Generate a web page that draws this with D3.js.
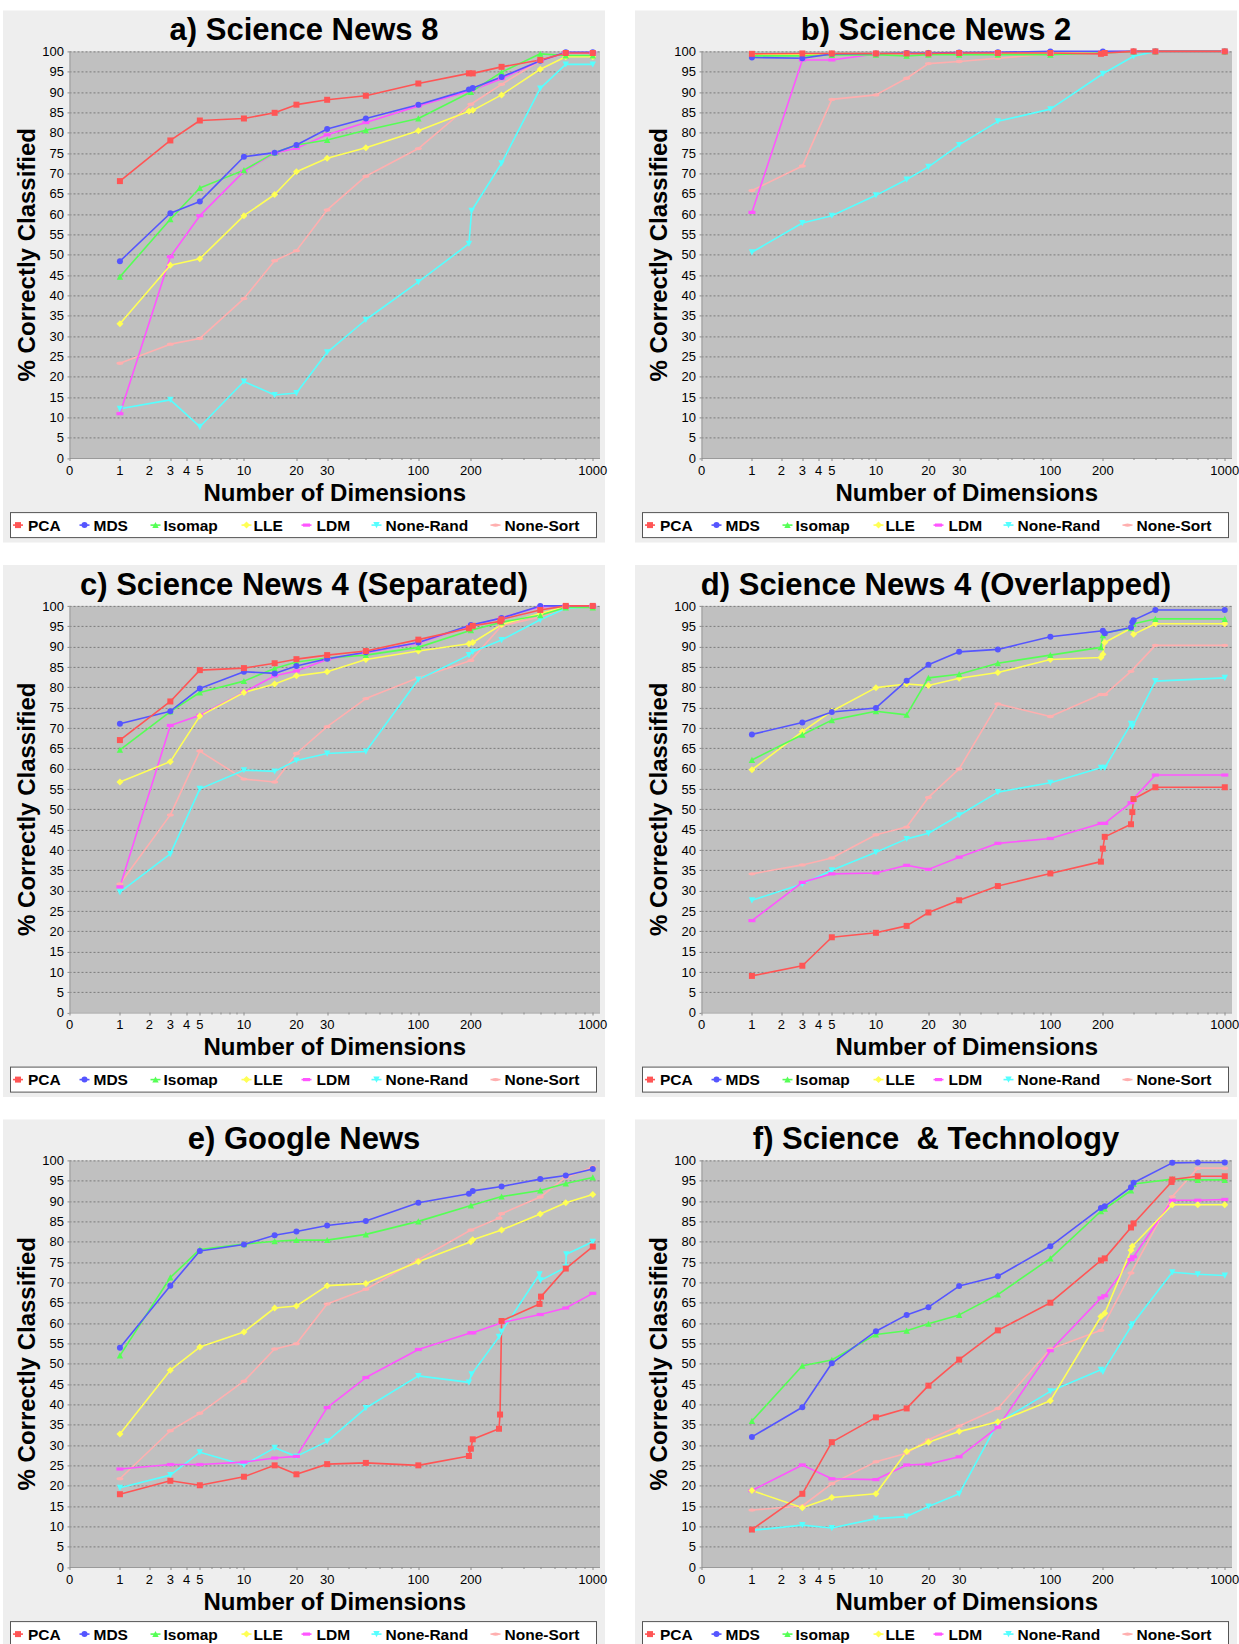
<!DOCTYPE html>
<html>
<head>
<meta charset="utf-8">
<script src="https://cdn.jsdelivr.net/npm/d3@7"></script>
<style>
  body { margin: 0; background: #ffffff; }
  svg text { font-family: "Liberation Sans", Arial, sans-serif; fill: #000; }
</style>
</head>
<body>
<svg id="chart" width="1239" height="1644"></svg>
<script>
// ---- series definitions -------------------------------------------------
const methods = ["PCA", "MDS", "Isomap", "LLE", "LDM", "None-Rand", "None-Sort"];
const methodColors = ["#ff5555", "#5555ff", "#55ff55", "#ffff55", "#ff55ff", "#55ffff", "#ffafaf"];
const methodShapes = ["square", "circle", "triUp", "diamond", "hRect", "triDown", "hEllipse"];

// ---- axis ticks ---------------------------------------------------------
const yTicks = d3.range(0, 101, 5);
const xTickLabels = [0, 1, 2, 3, 4, 5, 10, 20, 30, 100, 200, 1000];
const xMinorTicks = [6, 7, 8, 9, 40, 50, 60, 70, 80, 90, 300, 400, 500, 600, 700, 800, 900];

const panelTitles = [
  "a) Science News 8",
  "b) Science News 2",
  "c) Science News 4 (Separated)",
  "d) Science News 4 (Overlapped)",
  "e) Google News",
  "f) Science  & Technology"
];

// ---- a) Science News 8: [dimensions, % correctly classified] ------------
const sn8PCA = [[1,68.1],[3,78.1],[5,83.0],[10,83.5],[15,84.9],[20,86.9],[30,88.1],[50,89.1],[100,92.1],[195,94.6],[205,94.6],[300,96.2],[500,97.9],[700,99.6],[1000,99.6]];
const sn8MDS = [[1,48.4],[3,60.2],[5,63.1],[10,74.1],[15,75.1],[20,77.0],[30,80.9],[50,83.5],[100,86.9],[195,90.6],[205,91.0],[300,93.7],[500,97.7],[700,99.8],[1000,99.8]];
const sn8Isomap = [[1,44.6],[3,58.7],[5,66.4],[10,70.8],[15,75.1],[20,77.0],[30,78.2],[50,80.6],[100,83.5],[200,90.0],[300,94.9],[500,99.4],[700,99.0],[1000,99.0]];
const sn8LLE = [[1,33.0],[3,47.4],[5,49.0],[10,59.6],[15,64.8],[20,70.4],[30,73.7],[50,76.3],[100,80.5],[195,85.3],[205,85.5],[300,89.3],[500,95.6],[700,98.7],[1000,98.7]];
const sn8LDM = [[1,10.9],[3,49.5],[5,59.6],[10,70.5],[15,75.0],[20,76.2],[30,79.5],[50,82.5],[100,86.6],[200,90.4],[300,93.3],[500,97.7],[700,99.7],[1000,99.7]];
const sn8NoneRand = [[1,12.1],[3,14.3],[5,7.7],[10,18.8],[15,15.5],[20,16.0],[30,26.0],[50,34.0],[100,43.3],[195,52.7],[202,60.8],[300,72.5],[500,90.9],[700,96.8],[1000,96.8]];
const sn8NoneSort = [[1,23.3],[3,28.0],[5,29.4],[10,39.2],[15,48.5],[20,51.0],[30,61.0],[50,69.3],[100,76.1],[200,87.0],[300,91.9],[500,97.7],[700,99.7],[1000,99.7]];

// ---- b) Science News 2 ----------------------------------------------------
const sn2PCA = [[1,99.4],[3,99.5],[5,99.5],[10,99.5],[15,99.5],[20,99.5],[30,99.6],[50,99.6],[100,99.6],[195,99.4],[205,99.6],[300,100],[400,100],[1000,100]];
const sn2MDS = [[1,98.5],[3,98.3],[5,99.4],[10,99.5],[15,99.6],[20,99.6],[30,99.7],[50,99.8],[100,100],[200,100],[300,100],[400,100],[1000,100]];
const sn2Isomap = [[1,98.9],[3,98.9],[5,99.1],[10,99.2],[15,98.9],[20,99.2],[30,99.2],[50,99.2],[100,99.2],[200,99.6],[300,100],[400,100],[1000,100]];
const sn2LLE = [[1,99.2],[3,99.2],[5,99.4],[10,99.5],[15,99.5],[20,99.6],[30,99.6],[50,99.6],[100,99.7],[200,99.8],[300,100],[400,100],[1000,100]];
const sn2LDM = [[1,60.4],[3,97.9],[5,97.9],[10,99.4],[15,99.4],[20,99.4],[30,99.6],[50,99.7],[100,99.8],[200,99.9],[300,100],[400,100],[1000,100]];
const sn2NoneRand = [[1,50.6],[3,57.8],[5,59.6],[10,64.6],[15,68.5],[20,71.6],[30,77.0],[50,82.8],[100,85.8],[200,94.5],[300,98.8],[400,100],[1000,100]];
const sn2NoneSort = [[1,65.8],[3,71.8],[5,88.2],[10,89.3],[15,93.4],[20,97.0],[30,97.5],[50,98.3],[100,99.4],[200,99.8],[300,100],[400,100],[1000,100]];

// ---- c) Science News 4 (Separated) --------------------------------------
const sn4sPCA = [[1,67.0],[3,76.5],[5,84.2],[10,84.7],[15,85.9],[20,86.9],[30,87.9],[50,88.9],[100,91.7],[195,94.5],[205,95.1],[295,96.2],[300,96.7],[500,99.0],[700,100],[1000,100]];
const sn4sMDS = [[1,71.0],[3,74.1],[5,79.7],[10,83.8],[15,83.4],[20,85.2],[30,87.0],[50,88.6],[100,91.0],[200,95.3],[300,97.0],[500,100],[700,100],[1000,100]];
const sn4sIsomap = [[1,64.6],[3,74.0],[5,78.7],[10,81.5],[15,84.6],[20,86.2],[30,87.2],[50,87.9],[100,89.8],[200,94.0],[300,96.0],[500,97.7],[700,99.6],[1000,99.6]];
const sn4sLLE = [[1,56.7],[3,61.7],[5,72.9],[10,78.7],[15,80.8],[20,82.8],[30,83.8],[50,86.8],[100,88.9],[195,90.7],[205,91.0],[300,95.4],[500,98.1],[700,99.8],[1000,99.8]];
const sn4sLDM = [[1,30.9],[3,70.6],[5,73.1],[10,78.8],[15,82.8],[20,84.0],[30,86.8],[50,88.5],[100,90.9],[200,95.1],[300,97.1],[500,99.8],[700,100],[1000,100]];
const sn4sNoneRand = [[1,29.6],[3,39.0],[5,55.0],[10,59.6],[15,59.3],[20,62.0],[30,63.7],[50,64.2],[100,81.9],[195,87.9],[205,88.7],[300,91.6],[500,96.6],[700,99.4],[1000,99.8]];
const sn4sNoneSort = [[1,31.6],[3,48.6],[5,64.3],[10,57.4],[15,56.7],[20,63.7],[30,70.3],[50,77.2],[100,82.3],[200,86.6],[300,95.1],[500,97.3],[700,99.4],[1000,100]];

// ---- d) Science News 4 (Overlapped) -------------------------------------
const sn4oPCA = [[1,9.0],[3,11.5],[5,18.5],[10,19.6],[15,21.3],[20,24.6],[30,27.6],[50,31.1],[100,34.2],[195,37.1],[200,40.3],[205,43.2],[290,46.3],[295,49.3],[300,52.5],[400,55.4],[1000,55.4]];
const sn4oMDS = [[1,68.4],[3,71.3],[5,73.9],[10,74.9],[15,81.6],[20,85.5],[30,88.7],[50,89.3],[100,92.4],[200,93.9],[205,93.3],[290,94.7],[295,96.0],[300,96.5],[400,99.0],[1000,99.0]];
const sn4oIsomap = [[1,62.1],[3,68.3],[5,71.9],[10,74.1],[15,73.2],[20,82.3],[30,83.2],[50,85.9],[100,87.9],[195,89.8],[200,92.8],[205,93.4],[290,94.5],[300,95.6],[400,96.8],[1000,96.8]];
const sn4oLLE = [[1,59.7],[3,69.1],[5,74.1],[10,79.9],[15,80.8],[20,80.4],[30,82.2],[50,83.6],[100,86.8],[195,87.3],[200,88.1],[205,91.0],[290,94.5],[300,93.0],[400,95.6],[1000,95.6]];
const sn4oLDM = [[1,22.6],[3,32.0],[5,34.1],[10,34.3],[15,36.2],[20,35.2],[30,38.2],[50,41.6],[100,42.8],[195,46.5],[205,46.5],[290,51.6],[300,52.6],[400,58.4],[1000,58.4]];
const sn4oNoneRand = [[1,27.6],[3,31.6],[5,35.0],[10,39.4],[15,42.7],[20,44.1],[30,48.5],[50,54.2],[100,56.5],[195,60.2],[205,60.2],[290,71.0],[295,70.2],[400,81.5],[1000,82.3]];
const sn4oNoneSort = [[1,34.1],[3,36.3],[5,38.0],[10,43.7],[15,45.6],[20,52.9],[30,59.9],[50,75.9],[100,72.8],[195,78.2],[205,78.2],[290,83.9],[400,90.3],[1000,90.3]];

// ---- e) Google News -------------------------------------------------------
const gnPCA = [[1,17.9],[3,21.2],[5,20.1],[10,22.2],[15,25.0],[20,22.8],[30,25.3],[50,25.6],[100,25.0],[195,27.3],[200,29.1],[205,31.4],[290,34.0],[294,37.5],[300,60.5],[495,64.7],[505,66.5],[700,73.4],[1000,78.8]];
const gnMDS = [[1,53.9],[3,69.2],[5,77.7],[10,79.3],[15,81.6],[20,82.5],[30,84.0],[50,85.1],[100,89.6],[195,91.8],[205,92.5],[300,93.6],[500,95.4],[700,96.3],[1000,97.9]];
const gnIsomap = [[1,52.0],[3,71.2],[5,78.1],[10,79.4],[15,80.1],[20,80.4],[30,80.4],[50,81.8],[100,85.0],[200,88.9],[300,91.1],[500,92.6],[700,94.3],[1000,95.8]];
const gnLLE = [[1,32.7],[3,48.4],[5,54.1],[10,57.8],[15,63.7],[20,64.2],[30,69.2],[50,69.7],[100,75.1],[200,80.0],[205,80.5],[300,82.9],[500,86.8],[700,89.6],[1000,91.6]];
const gnLDM = [[1,24.1],[3,25.2],[5,25.2],[10,25.8],[15,26.8],[20,27.2],[30,39.2],[50,46.6],[100,53.5],[200,57.6],[205,57.6],[300,60.1],[500,62.1],[700,63.7],[1000,67.3]];
const gnNoneRand = [[1,19.5],[3,22.6],[5,28.2],[10,25.1],[15,29.3],[20,27.2],[30,30.9],[50,39.1],[100,47.0],[195,45.4],[202,47.4],[290,56.6],[300,57.9],[495,72.0],[502,70.5],[700,73.7],[705,76.9],[1000,80.0]];
const gnNoneSort = [[1,21.7],[3,33.5],[5,37.8],[10,45.7],[15,53.6],[20,54.9],[30,64.7],[50,68.3],[100,75.6],[200,82.9],[290,85.8],[300,86.9],[500,91.0],[700,95.8],[1000,98.4]];

// ---- f) Science & Technology ----------------------------------------------
const stPCA = [[1,9.2],[3,18.0],[5,30.7],[10,36.8],[15,39.0],[20,44.6],[30,51.0],[50,58.2],[100,65.0],[195,75.4],[205,75.9],[290,83.5],[300,84.5],[495,94.7],[500,95.3],[700,96.1],[1000,96.1]];
const stMDS = [[1,32.0],[3,39.3],[5,50.1],[10,58.0],[15,62.0],[20,63.9],[30,69.1],[50,71.5],[100,78.9],[195,88.3],[205,88.7],[290,93.4],[300,94.5],[500,99.4],[700,99.5],[1000,99.5]];
const stIsomap = [[1,35.9],[3,49.5],[5,50.9],[10,57.2],[15,58.1],[20,59.8],[30,62.0],[50,67.0],[100,75.9],[195,87.5],[205,88.1],[290,92.6],[300,94.2],[500,95.4],[700,95.2],[1000,95.2]];
const stLLE = [[1,18.8],[3,14.6],[5,17.1],[10,18.0],[15,28.4],[20,30.7],[30,33.3],[50,35.7],[100,40.9],[195,61.6],[205,62.4],[290,77.9],[295,78.9],[500,89.1],[700,89.1],[1000,89.1]];
const stLDM = [[1,18.8],[3,25.1],[5,21.7],[10,21.5],[15,25.1],[20,25.3],[30,27.1],[50,34.4],[100,53.2],[195,66.2],[205,66.7],[290,75.6],[300,76.3],[500,90.2],[700,90.2],[1000,90.4]];
const stNoneRand = [[1,9.0],[3,10.3],[5,9.6],[10,11.9],[15,12.4],[20,14.9],[30,18.0],[50,35.5],[100,43.2],[195,48.5],[200,48.0],[290,59.1],[295,59.7],[500,72.5],[700,72.0],[1000,71.7]];
const stNoneSort = [[1,14.0],[3,15.0],[5,20.5],[10,25.9],[15,28.0],[20,31.3],[30,34.7],[50,39.0],[100,53.6],[195,58.2],[290,72.3],[500,91.1],[700,98.1],[1000,98.1]];

const panelSeries = [
  [sn8PCA, sn8MDS, sn8Isomap, sn8LLE, sn8LDM, sn8NoneRand, sn8NoneSort],
  [sn2PCA, sn2MDS, sn2Isomap, sn2LLE, sn2LDM, sn2NoneRand, sn2NoneSort],
  [sn4sPCA, sn4sMDS, sn4sIsomap, sn4sLLE, sn4sLDM, sn4sNoneRand, sn4sNoneSort],
  [sn4oPCA, sn4oMDS, sn4oIsomap, sn4oLLE, sn4oLDM, sn4oNoneRand, sn4oNoneSort],
  [gnPCA, gnMDS, gnIsomap, gnLLE, gnLDM, gnNoneRand, gnNoneSort],
  [stPCA, stMDS, stIsomap, stLLE, stLDM, stNoneRand, stNoneSort]
];

// ---- layout -----------------------------------------------------------------
const colStep = 632, rowStep = 554.5;
const plotLeft = 69.5, plotTop = 51.4, plotW = 530.5, plotH = 406.6;

// The dimension axis: 0..10 is spaced as log(d+1), above 10 as a plain log;
// each of the three stretches 0-10, 10-100, 100-1000 gets the same width.
const axisUnit = d => d <= 10 ? Math.log10(d + 1) / Math.log10(11) : Math.log10(d);
const xScale = d3.scaleLinear().domain([0, axisUnit(1100)]).range([0, plotW]);
const xPos = d => xScale(axisUnit(d));
const yScale = d3.scaleLinear().domain([0, 100]).range([plotH, 0]);

const shapePath = {
  square:   "M-3,-3h6v6h-6z",
  circle:   "M3,0A3,3 0 1,1 -3,0A3,3 0 1,1 3,0z",
  triUp:    "M0,-3.2L3.2,3L-3.2,3z",
  diamond:  "M0,-3.5L3.5,0L0,3.5L-3.5,0z",
  hRect:    "M-3.5,-1.6h7v3.2h-7z",
  triDown:  "M-3.2,-3L3.2,-3L0,3.2z",
  hEllipse: "M3.5,0A3.5,1.7 0 1,1 -3.5,0A3.5,1.7 0 1,1 3.5,0z"
};

const legendOffsets = [
  { mark: 7.5, text: 17.5 },
  { mark: 74, text: 83 },
  { mark: 145, text: 153 },
  { mark: 236, text: 243 },
  { mark: 296, text: 306 },
  { mark: 366, text: 375 },
  { mark: 485, text: 494 }
];

const svg = d3.select("#chart");

panelTitles.forEach((title, i) => {
  const col = i % 2, row = Math.floor(i / 2);
  const g = svg.append("g").attr("transform", `translate(${col * colStep},${row * rowStep})`);

  // chart background
  g.append("rect").attr("x", 3).attr("y", 10.5).attr("width", 602).attr("height", 532)
    .attr("fill", "#eeeeee");

  // title
  g.append("text").attr("x", 304).attr("y", 40).attr("text-anchor", "middle")
    .attr("font-size", 31).attr("font-weight", "bold")
    .style("white-space", "pre").text(title);

  const plot = g.append("g").attr("transform", `translate(${plotLeft},${plotTop})`);

  plot.append("rect").attr("width", plotW).attr("height", plotH).attr("fill", "#c0c0c0");

  // dotted horizontal grid
  plot.selectAll("line.grid").data(yTicks.filter(v => v > 0)).join("line")
    .attr("class", "grid")
    .attr("x1", 0).attr("x2", plotW)
    .attr("y1", d => Math.round(yScale(d)) + 0.5).attr("y2", d => Math.round(yScale(d)) + 0.5)
    .attr("stroke", "#7c7c7c").attr("stroke-width", 1).attr("stroke-dasharray", "2,2");

  // axis lines
  plot.append("line").attr("x1", 0.5).attr("x2", 0.5).attr("y1", 0).attr("y2", plotH)
    .attr("stroke", "#9a9a9a");
  plot.append("line").attr("x1", 0).attr("x2", plotW).attr("y1", plotH + 0.5).attr("y2", plotH + 0.5)
    .attr("stroke", "#9a9a9a");

  // y ticks and labels
  plot.selectAll("line.ytick").data(yTicks).join("line").attr("class", "ytick")
    .attr("x1", -2).attr("x2", 0)
    .attr("y1", d => Math.round(yScale(d)) + 0.5).attr("y2", d => Math.round(yScale(d)) + 0.5)
    .attr("stroke", "#8a8a8a");
  plot.selectAll("text.ylab").data(yTicks).join("text").attr("class", "ylab")
    .attr("x", -5.5).attr("y", d => yScale(d)).attr("dy", "0.36em")
    .attr("text-anchor", "end").attr("font-size", 13).text(d => d);

  // x ticks and labels
  plot.selectAll("line.xminor").data(xMinorTicks).join("line").attr("class", "xminor")
    .attr("x1", d => Math.round(xPos(d)) + 0.5).attr("x2", d => Math.round(xPos(d)) + 0.5)
    .attr("y1", plotH).attr("y2", plotH + 2).attr("stroke", "#8a8a8a");
  plot.selectAll("line.xtick").data(xTickLabels).join("line").attr("class", "xtick")
    .attr("x1", d => Math.round(xPos(d)) + 0.5).attr("x2", d => Math.round(xPos(d)) + 0.5)
    .attr("y1", plotH).attr("y2", plotH + 3).attr("stroke", "#8a8a8a");
  plot.selectAll("text.xlab").data(xTickLabels).join("text").attr("class", "xlab")
    .attr("x", d => xPos(d)).attr("y", plotH + 17)
    .attr("text-anchor", "middle").attr("font-size", 13).text(d => d);

  // axis titles
  plot.append("text").attr("x", plotW / 2).attr("y", plotH + 43)
    .attr("text-anchor", "middle").attr("font-size", 24).attr("font-weight", "bold")
    .text("Number of Dimensions");
  g.append("text")
    .attr("transform", `translate(35,${plotTop + plotH / 2}) rotate(-90)`)
    .attr("text-anchor", "middle").attr("font-size", 24).attr("font-weight", "bold")
    .text("% Correctly Classified");

  // series: lines first, then markers; the first series ends up on top
  const line = d3.line().x(d => xPos(d[0])).y(d => yScale(d[1]));
  const order = d3.range(methods.length).reverse();
  const seriesList = panelSeries[i];
  order.forEach(k => {
    plot.append("path").datum(seriesList[k]).attr("d", line)
      .attr("fill", "none").attr("stroke", methodColors[k])
      .attr("stroke-width", 1.6).attr("stroke-linejoin", "round");
  });
  order.forEach(k => {
    plot.append("g").selectAll("path").data(seriesList[k]).join("path")
      .attr("transform", d => `translate(${xPos(d[0])},${yScale(d[1])})`)
      .attr("d", shapePath[methodShapes[k]])
      .attr("fill", methodColors[k]);
  });

  // legend
  const lg = g.append("g").attr("transform", "translate(10.5,512.6)");
  lg.append("rect").attr("width", 586).attr("height", 25)
    .attr("fill", "#ffffff").attr("stroke", "#555555").attr("stroke-width", 1);
  methods.forEach((m, k) => {
    const o = legendOffsets[k];
    lg.append("line").attr("x1", o.mark - 5).attr("x2", o.mark + 5)
      .attr("y1", 12.5).attr("y2", 12.5)
      .attr("stroke", methodColors[k]).attr("stroke-width", 1.6);
    lg.append("path").attr("transform", `translate(${o.mark},12.5)`)
      .attr("d", shapePath[methodShapes[k]]).attr("fill", methodColors[k]);
    lg.append("text").attr("x", o.text).attr("y", 18.3)
      .attr("font-size", 15.5).attr("font-weight", "bold").text(m);
  });
});
</script>
</body>
</html>
